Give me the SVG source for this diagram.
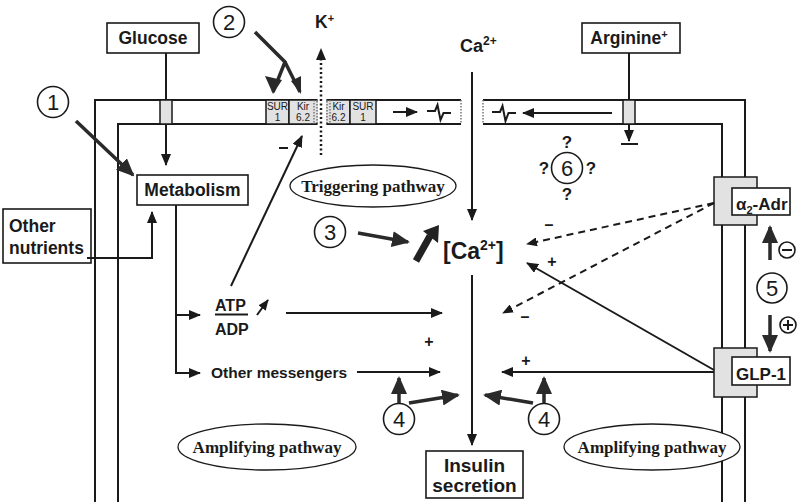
<svg xmlns="http://www.w3.org/2000/svg" width="800" height="502" viewBox="0 0 800 502">
<style>
.ln{fill:none;stroke:#1a1a1a;stroke-width:2}
.th{fill:none;stroke:#2a2a2a;stroke-width:3.5}
.box{fill:#fff;stroke:#1a1a1a;stroke-width:1.6}
.gr{fill:#e2e2e2;stroke:#1a1a1a;stroke-width:1.5}
.dot{fill:none;stroke:#777;stroke-width:1.5;stroke-dasharray:1.5,1.5}
.t{font-family:"Liberation Sans",Arial,sans-serif;font-weight:bold;fill:#1a1a1a}
.r{font-family:"Liberation Sans",Arial,sans-serif;font-weight:normal;fill:#1a1a1a}
.s{font-family:"Liberation Serif","Times New Roman",serif;font-weight:bold;fill:#1a1a1a;font-size:17px}
.n{font-family:"Liberation Sans",Arial,sans-serif;fill:#1a1a1a;font-size:22px}
.c{fill:#fff;stroke:#1a1a1a;stroke-width:1.6}
.el{fill:#fff;stroke:#1a1a1a;stroke-width:1.3}
</style>
<defs>
<marker id="a" markerUnits="userSpaceOnUse" markerWidth="12" markerHeight="10" refX="11" refY="5" orient="auto"><path d="M0,0 L12,5 L0,10 z" fill="#1a1a1a"/></marker>
<marker id="b" markerUnits="userSpaceOnUse" markerWidth="18" markerHeight="16" refX="16" refY="8" orient="auto"><path d="M0,0 L18,8 L0,16 z" fill="#2a2a2a"/></marker>
<marker id="d" markerUnits="userSpaceOnUse" markerWidth="11" markerHeight="9" refX="10" refY="4.5" orient="auto"><path d="M0,0 L11,4.5 L0,9 z" fill="#1a1a1a"/></marker>
</defs>

<g id="membrane">
<path class="ln" d="M95,502 V100 H317 M118,502 V124 H317"/>
<path class="ln" d="M327,100 H461 M327,124 H461"/>
<path class="ln" d="M483,100 H745 V502 M483,124 H722 V502"/>
<rect class="gr" x="266" y="100" width="23" height="24"/>
<rect x="289" y="100" width="28" height="24" fill="#e2e2e2" stroke="#1a1a1a" stroke-width="1.5"/>
<rect x="327" y="100" width="23" height="24" fill="#e2e2e2" stroke="#1a1a1a" stroke-width="1.5"/>
<rect class="gr" x="350" y="100" width="26" height="24"/>
<path class="dot" d="M317,100 V124 M314,100 V124 M327,100 V124 M330,100 V124 M461,100 V124 M483,100 V124"/>
<path stroke="#fff" stroke-width="1.6" d="M317,101 V123 M327,101 V123"/>
<path class="dot" d="M317,101 V123 M327,101 V123"/>
<g class="r" font-size="10" text-anchor="middle">
<text x="277.5" y="110">SUR</text><text x="277.5" y="121">1</text>
<text x="303" y="110">Kir</text><text x="303" y="121">6.2</text>
<text x="338.5" y="110">Kir</text><text x="338.5" y="121">6.2</text>
<text x="363" y="110">SUR</text><text x="363" y="121">1</text>
</g>
<rect class="gr" x="160" y="100" width="12" height="24"/>
<rect class="gr" x="623" y="100" width="12" height="24"/>
<path class="ln" d="M427,111 H435 L437.5,105 L440.5,120 L443.5,113 H451"/>
<path class="ln" d="M492,112 H500 L502.5,106 L505.5,121 L508.5,113 H516"/>
</g>

<g id="glucose"><rect class="box" x="107" y="23" width="92" height="30"/><text class="t" x="153" y="44" font-size="17.5" text-anchor="middle">Glucose</text></g>
<g id="arginine"><rect class="box" x="582" y="23" width="98" height="30"/><text class="t" x="629" y="44" font-size="17.5" text-anchor="middle">Arginine<tspan font-size="11" dy="-6">+</tspan></text></g>
<g id="k"><text class="t" x="315" y="28" font-size="17.5">K<tspan font-size="11" dy="-6">+</tspan></text></g>
<g id="ca-ext"><text class="t" x="460" y="52" font-size="18">Ca<tspan font-size="12" dy="-7">2+</tspan></text></g>
<g id="metabolism"><rect class="box" x="137" y="175" width="111" height="30"/><text class="t" x="192.5" y="196" font-size="17.5" text-anchor="middle">Metabolism</text></g>
<g id="other-nutrients"><rect class="box" x="3" y="209" width="88" height="54"/><text class="t" x="9" y="232" font-size="17.5">Other</text><text class="t" x="9" y="254" font-size="17.5">nutrients</text></g>
<g id="atp-adp"><text class="t" x="215" y="311" font-size="16">ATP</text><path class="ln" d="M215,314.5 H248"/><text class="t" x="215" y="335" font-size="16">ADP</text></g>
<g id="other-messengers"><text class="t" x="211" y="378" font-size="15.5">Other messengers</text></g>
<g id="ca-int"><text class="t" x="443" y="259" font-size="23">[Ca<tspan font-size="14" dy="-9">2+</tspan><tspan dy="9">]</tspan></text></g>
<g id="insulin"><rect class="box" x="426" y="451" width="97" height="47"/><text class="t" x="474.5" y="472" font-size="19" text-anchor="middle">Insulin</text><text class="t" x="474.5" y="492" font-size="19" text-anchor="middle">secretion</text></g>
<g id="alpha2-adr"><rect class="gr" x="714" y="177" width="43" height="48"/><rect class="box" x="732" y="188" width="58" height="27"/><text class="t" x="736" y="210" font-size="17">α<tspan font-size="11" dy="4">2</tspan><tspan dy="-4">-Adr</tspan></text></g>
<g id="glp-1"><rect class="gr" x="714" y="348" width="43" height="49"/><rect class="box" x="732" y="357" width="58" height="28"/><text class="t" x="761" y="380" font-size="17" text-anchor="middle">GLP-1</text></g>

<g id="triggering"><ellipse class="el" cx="373" cy="186" rx="83" ry="21"/><text class="s" x="373" y="192" text-anchor="middle">Triggering pathway</text></g>
<g id="amplifying-left"><ellipse class="el" cx="267" cy="447" rx="89" ry="23"/><text class="s" x="267" y="453" text-anchor="middle">Amplifying pathway</text></g>
<g id="amplifying-right"><ellipse class="el" cx="652" cy="447" rx="88" ry="23"/><text class="s" x="652" y="453" text-anchor="middle">Amplifying pathway</text></g>

<g id="c1"><circle class="c" cx="53" cy="102" r="15.5"/><text class="n" x="53" y="110" text-anchor="middle">1</text></g>
<g id="c2"><circle class="c" cx="229" cy="22" r="15.5"/><text class="n" x="229" y="30" text-anchor="middle">2</text></g>
<g id="c3"><circle class="c" cx="330" cy="232" r="15.5"/><text class="n" x="330" y="240" text-anchor="middle">3</text></g>
<g id="c4a"><circle class="c" cx="399" cy="419" r="15.5"/><text class="n" x="399" y="427" text-anchor="middle">4</text></g>
<g id="c4b"><circle class="c" cx="544" cy="419" r="15.5"/><text class="n" x="544" y="427" text-anchor="middle">4</text></g>
<g id="c5"><circle class="c" cx="772" cy="288" r="15"/><text class="n" x="772" y="296" text-anchor="middle">5</text>
<circle class="c" cx="787" cy="250" r="8"/><path class="ln" d="M782,250 H792"/>
<circle class="c" cx="788" cy="325" r="8"/><path class="ln" d="M783,325 H793 M788,320 V330"/></g>
<g id="c6"><circle class="c" cx="567" cy="168" r="15.5"/><text class="n" x="567" y="176" text-anchor="middle">6</text>
<g class="t" font-size="17" text-anchor="middle"><text x="567" y="148">?</text><text x="544" y="174">?</text><text x="591" y="174">?</text><text x="567" y="200">?</text></g></g>

<g id="connectors">
<path class="ln" d="M166,53 V100"/>
<path class="ln" d="M166,124 V165" marker-end="url(#a)"/>
<path class="ln" d="M629,53 V100"/>
<path class="ln" d="M629,124 V141" marker-end="url(#a)"/>
<path class="ln" d="M621,144 H638"/>
<path class="ln" d="M393,112 H417" marker-end="url(#a)"/>
<path class="ln" d="M612,113 H523" marker-end="url(#a)"/>
<path fill="none" stroke="#1a1a1a" stroke-width="2.5" stroke-dasharray="2,2.5" d="M321,155 V58"/>
<path d="M316,60 L321,48 L326,60 z" fill="#1a1a1a"/>
<path class="th" d="M76,121 L133,175" marker-end="url(#b)"/>
<path class="th" d="M255,32 L285,62 L273,92 M285,62 L300,92"/>
<path d="M265,76 L273,94 L282,80 z M291,81 L301,94 L301,76 z" fill="#2a2a2a"/>
<path class="ln" d="M472,72 V220" marker-end="url(#a)"/>
<path class="ln" d="M472,275 V445" marker-end="url(#a)"/>
<path class="ln" d="M87,258 H152 V212" marker-end="url(#a)"/>
<path class="ln" d="M176,205 V373 H200" marker-end="url(#a)"/>
<path class="ln" d="M176,315 H200" marker-end="url(#a)"/>
<path class="ln" d="M231,286 L302,136" marker-end="url(#a)"/>
<path class="ln" d="M279,148 H288"/>
<path class="ln" d="M257,315 L268,300" stroke-width="2.5" marker-end="url(#d)"/>
<path class="ln" d="M286,313 H442" marker-end="url(#a)"/>
<path class="ln" d="M357,372 H440" marker-end="url(#a)"/>
<path class="ln" d="M714,372 H502" marker-end="url(#a)"/>
<path class="ln" d="M714,370 L527,263" marker-end="url(#a)"/>
<path fill="none" stroke="#1a1a1a" stroke-width="2" stroke-dasharray="7,5" d="M714,203 L527,244" marker-end="url(#d)"/>
<path fill="none" stroke="#1a1a1a" stroke-width="2" stroke-dasharray="7,5" d="M714,203 L503,313" marker-end="url(#d)"/>
<path class="th" d="M358,233 L408,242" marker-end="url(#b)"/>
<path fill="none" stroke="#222" stroke-width="7" d="M416,261 L430,236"/>
<path d="M423,231 L439,225 L438,243 z" fill="#222"/>
<path class="th" d="M399,403 V378" marker-end="url(#b)"/>
<path class="th" d="M409,403 L458,395" marker-end="url(#b)"/>
<path class="th" d="M544,403 V378" marker-end="url(#b)"/>
<path class="th" d="M533,403 L485,395" marker-end="url(#b)"/>
<path class="th" d="M770,260 V227" marker-end="url(#b)"/>
<path class="th" d="M770,315 V351" marker-end="url(#b)"/>
<g class="t" font-size="16" text-anchor="middle">
<text x="429" y="347">+</text><text x="526" y="366">+</text><text x="552" y="267">+</text>
<text x="549" y="230">–</text><text x="525" y="322">–</text>
</g>
</g>
</svg>
